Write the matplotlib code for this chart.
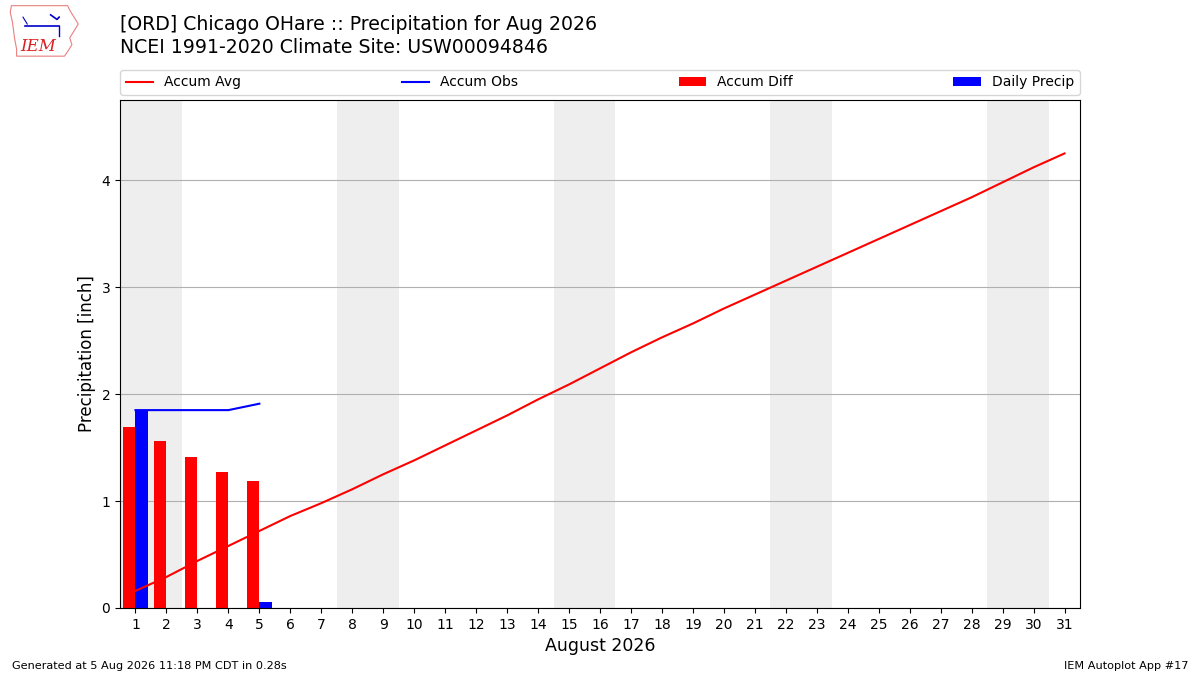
import matplotlib
matplotlib.use("Agg")
import matplotlib.pyplot as plt
from matplotlib.patches import Polygon

days = list(range(1, 32))
accum_avg = [0.16, 0.29, 0.44, 0.58, 0.72, 0.86, 0.98, 1.11, 1.25, 1.38,
             1.52, 1.66, 1.80, 1.95, 2.09, 2.24, 2.39, 2.53, 2.66, 2.80,
             2.93, 3.06, 3.19, 3.32, 3.45, 3.58, 3.71, 3.84, 3.98, 4.12, 4.25]
obs_days = [1, 2, 3, 4, 5]
daily_precip = [1.85, 0.0, 0.0, 0.0, 0.06]
accum_obs = [1.85, 1.85, 1.85, 1.85, 1.91]
accum_diff = [o - a for o, a in zip(accum_obs, accum_avg[:5])]
weekends = [(1, 2), (8, 9), (15, 16), (22, 23), (29, 30)]

title1 = "[ORD] Chicago OHare :: Precipitation for Aug 2026"
title2 = "NCEI 1991-2020 Climate Site: USW00094846"
footer_left = "Generated at 5 Aug 2026 11:18 PM CDT in 0.28s"
footer_right = "IEM Autoplot App #17"

fig = plt.figure(figsize=(12, 6.75), dpi=100)
ax = fig.add_axes([0.1, 0.0993, 0.8, 0.7526])

for s, e in weekends:
    ax.axvspan(s - 0.5, e + 0.5, color="#eeeeee", zorder=0, lw=0)

ax.plot(days, accum_avg, color="r", lw=1.5, label="Accum Avg", zorder=3)
ax.plot(obs_days, accum_obs, color="b", lw=1.5, label="Accum Obs", zorder=3)
ax.bar(obs_days, accum_diff, width=-0.4, align="edge", color="r",
       label="Accum Diff", zorder=2)
ax.bar(obs_days, daily_precip, width=0.4, align="edge", color="b",
       label="Daily Precip", zorder=2)

ax.set_xlim(0.5, 31.5)
ax.set_ylim(0, 4.75)
ax.set_xticks(days)
ax.set_yticks([0, 1, 2, 3, 4])
ax.grid(axis="y", color="#b0b0b0", lw=0.8, zorder=1)
ax.set_axisbelow(True)
ax.set_xlabel("August 2026", fontsize=12.5)
ax.set_ylabel("Precipitation [inch]", fontsize=12)

ax.legend(loc="lower left", bbox_to_anchor=(0, 1.0098, 1, 0.1), mode="expand",
          ncol=4, fontsize=10, borderaxespad=0)

fig.text(0.1, 0.963, title1, fontsize=13.6, va="center", ha="left")
fig.text(0.1, 0.929, title2, fontsize=13.6, va="center", ha="left")

fig.text(0.01, 0.014, footer_left, fontsize=8.15, ha="left", va="center")
fig.text(0.99, 0.014, footer_right, fontsize=8.15, ha="right", va="center")

# simple IEM logo
lax = fig.add_axes([0.005, 0.91, 0.062, 0.085])
lax.set_xlim(0, 70)
lax.set_ylim(0, 50)
lax.axis("off")
outline = [(5, 48), (58, 48), (60, 44), (64, 38), (68, 32), (64, 26),
           (60, 20), (62, 14), (58, 8), (55, 4), (45, 4), (10, 4),
           (10, 10), (8, 20), (6, 34), (4, 42)]
lax.add_patch(Polygon(outline, closed=True, fill=False, ec="#e88080", lw=0.8))
lax.plot([18, 50], [30, 30], color="#0000cc", lw=1.2)
lax.plot([42, 48, 50], [40, 36, 38], color="#0000cc", lw=1.2)
lax.plot([50, 50], [30, 22], color="#0000cc", lw=1)
lax.plot([16, 20], [38, 32], color="#0000cc", lw=0.8)
lax.text(30, 12, "IEM", color="#dd2020", fontsize=12, family="DejaVu Serif",
         style="italic", ha="center", va="center")

fig.savefig("out.png", dpi=100)
